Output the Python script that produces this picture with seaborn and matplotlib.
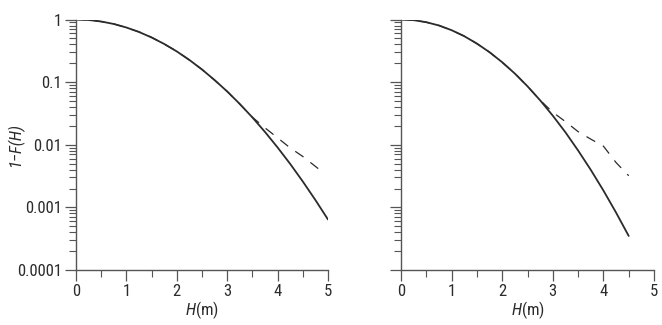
import numpy as np
import pandas as pd
import matplotlib
matplotlib.use("Agg")
import matplotlib.pyplot as plt
import matplotlib.ticker as mticker
from matplotlib import font_manager
import seaborn as sns

# values (1-F(H) on a log axis)
h_left = [0, 0.25, 0.5, 0.75, 1.0, 1.25, 1.5, 1.75, 2.0, 2.25, 2.5, 2.75,
          3.0, 3.25, 3.5, 3.75, 4.0, 4.25, 4.5, 4.75, 5.0]
solid_left = [1.0, 0.982, 0.929, 0.848, 0.745, 0.632, 0.516, 0.407, 0.309, 0.226,
              0.159, 0.108, 0.0709, 0.0448, 0.0273, 0.0160, 0.00905, 0.00494,
              0.00259, 0.00131, 0.00064]
h_dash_left = [0, 0.25, 0.5, 0.75, 1.0, 1.25, 1.5, 1.75, 2.0, 2.25, 2.5, 2.75,
               3.0, 3.25, 3.5, 3.75, 4.0, 4.25, 4.5, 4.85]
dash_left = [1.0, 0.985, 0.925, 0.852, 0.74, 0.635, 0.52, 0.405, 0.312, 0.224,
             0.16, 0.107, 0.0712, 0.0445, 0.0275, 0.0186, 0.0129, 0.0089,
             0.0065, 0.0039]

h_right = [0, 0.25, 0.5, 0.75, 1.0, 1.25, 1.5, 1.75, 2.0, 2.25, 2.5, 2.75,
           3.0, 3.25, 3.5, 3.75, 4.0, 4.25, 4.5]
solid_right = [1.0, 0.976, 0.906, 0.802, 0.675, 0.541, 0.413, 0.300, 0.208, 0.137,
               0.0858, 0.0512, 0.0291, 0.0158, 0.0081, 0.00398, 0.00186,
               0.000826, 0.00035]
dash_right = [1.0, 0.978, 0.903, 0.805, 0.672, 0.545, 0.41, 0.302, 0.206, 0.138,
              0.0855, 0.0515, 0.033, 0.0234, 0.0162, 0.0123, 0.0095, 0.0052,
              0.0032]

y_ticks = [1, 0.1, 0.01, 0.001, 0.0001]
x_ticks = [0, 1, 2, 3, 4, 5]

# pick a narrow sans if one is around
names = {f.name for f in font_manager.fontManager.ttflist}
narrow = [n for n in ['Roboto Condensed', 'Liberation Sans Narrow', 'Open Sans Condensed',
                      'Liberation Sans'] if n in names]
fam = narrow[0] if narrow else 'DejaVu Sans'

sns.set_style("ticks")
plt.rcParams['font.family'] = [fam, 'DejaVu Sans']
plt.rcParams['mathtext.fontset'] = 'custom'
plt.rcParams['mathtext.it'] = fam + ':italic'
plt.rcParams['mathtext.rm'] = fam

fig = plt.figure(figsize=(6.62, 3.25), dpi=100)
ax1 = fig.add_axes([76 / 662, 1 - 270 / 325, 252 / 662, 250.5 / 325])
ax2 = fig.add_axes([401 / 662, 1 - 270 / 325, 253 / 662, 250.5 / 325])

line_col = "#2b2b2b"
panels = [
    (ax1, h_left, solid_left, h_dash_left, dash_left),
    (ax2, h_right, solid_right, h_right, dash_right),
]
for ax, hs, ys, hd, yd in panels:
    sns.lineplot(x=hd, y=yd, ax=ax, color=line_col, lw=0.9,
                 linestyle=(0, (8, 7)))
    sns.lineplot(x=hs, y=ys, ax=ax, color=line_col, lw=1.3)
    ax.set_yscale("log")
    ax.set_ylim(1e-4, 1)
    ax.set_xlim(0, 5)
    ax.set_xticks(x_ticks)
    ax.xaxis.set_minor_locator(mticker.MultipleLocator(0.5))
    ax.yaxis.set_major_locator(mticker.FixedLocator(y_ticks))
    ax.yaxis.set_minor_locator(mticker.LogLocator(base=10, subs=np.arange(2, 10)))
    ax.yaxis.set_minor_formatter(mticker.NullFormatter())
    ax.yaxis.set_major_formatter(mticker.FuncFormatter(lambda v, p: f"{v:g}"))
    ax.tick_params(which="major", length=8, width=0.9, color="#555555",
                   labelsize=12, labelcolor="#2b2b2b", pad=2)
    ax.tick_params(which="minor", length=5, width=0.8, color="#555555")
    for s in ["top", "right"]:
        ax.spines[s].set_visible(False)
    for s in ["left", "bottom"]:
        ax.spines[s].set_color("#555555")
        ax.spines[s].set_linewidth(1.0)
    ax.set_xlabel(r"$H$(m)", fontsize=12, color="#2b2b2b", labelpad=0)
    ax.set_ylabel("")

ax2.tick_params(axis="y", which="both", labelleft=False)
fig.text(15 / 662, 1 - 145 / 325, "1\u2212F(H)", fontsize=12, color="#2b2b2b",
         style="italic", rotation=90, ha="center", va="center")

fig.savefig("out.png", dpi=100)
